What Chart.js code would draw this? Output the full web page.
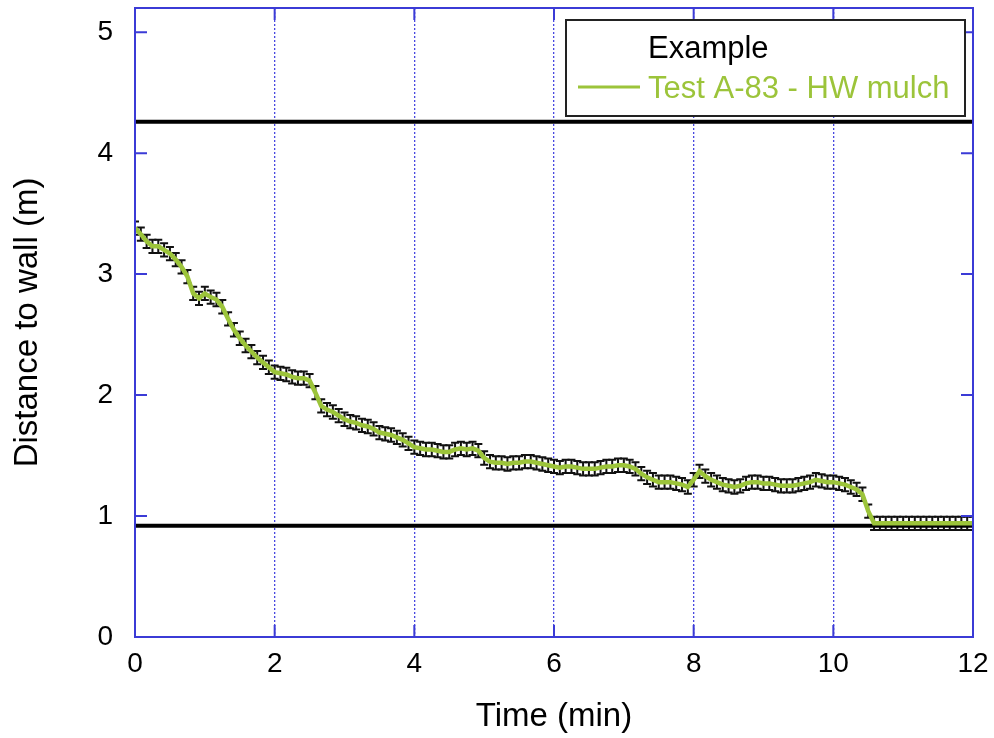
<!DOCTYPE html>
<html>
<head>
<meta charset="utf-8">
<title>Distance to wall</title>
<script src="https://cdn.jsdelivr.net/npm/chart.js@4.4.1/dist/chart.umd.min.js"></script>
<style>
    html, body { margin: 0; padding: 0; background: #fff; }
    #wrap { width: 994px; height: 738px; }
</style>
</head>
<body>
<div id="wrap"><canvas id="chart" width="994" height="738"></canvas></div>
<script>
// Sample times (s), one reading every 5 s
const timeSec = [
    0, 5, 10, 15, 20, 25, 30, 35, 40, 45, 50, 55,
    60, 65, 70, 75, 80, 85, 90, 95, 100, 105, 110, 115,
    120, 125, 130, 135, 140, 145, 150, 155, 160, 165, 170, 175,
    180, 185, 190, 195, 200, 205, 210, 215, 220, 225, 230, 235,
    240, 245, 250, 255, 260, 265, 270, 275, 280, 285, 290, 295,
    300, 305, 310, 315, 320, 325, 330, 335, 340, 345, 350, 355,
    360, 365, 370, 375, 380, 385, 390, 395, 400, 405, 410, 415,
    420, 425, 430, 435, 440, 445, 450, 455, 460, 465, 470, 475,
    480, 485, 490, 495, 500, 505, 510, 515, 520, 525, 530, 535,
    540, 545, 550, 555, 560, 565, 570, 575, 580, 585, 590, 595,
    600, 605, 610, 615, 620, 625, 630, 635, 640, 645, 650, 655,
    660, 665, 670, 675, 680, 685, 690, 695, 700, 705, 710, 715,
    720
];

// Distance to wall (m) at each sample time
const distance = [
    3.38, 3.33, 3.27, 3.23, 3.23, 3.20, 3.17, 3.12, 3.06, 2.98, 2.84, 2.80,
    2.84, 2.81, 2.79, 2.73, 2.63, 2.54, 2.47, 2.41, 2.36, 2.31, 2.27, 2.23,
    2.19, 2.18, 2.17, 2.15, 2.14, 2.14, 2.12, 2.02, 1.91, 1.88, 1.86, 1.83,
    1.80, 1.78, 1.77, 1.75, 1.74, 1.72, 1.69, 1.68, 1.67, 1.65, 1.63, 1.60,
    1.57, 1.56, 1.55, 1.55, 1.54, 1.53, 1.53, 1.55, 1.56, 1.55, 1.56, 1.54,
    1.48, 1.45, 1.44, 1.44, 1.43, 1.44, 1.44, 1.45, 1.45, 1.44, 1.43, 1.42,
    1.41, 1.40, 1.41, 1.41, 1.40, 1.39, 1.39, 1.39, 1.40, 1.41, 1.41, 1.42,
    1.42, 1.41, 1.39, 1.35, 1.32, 1.30, 1.28, 1.28, 1.28, 1.27, 1.26, 1.24,
    1.30, 1.37, 1.33, 1.30, 1.28, 1.26, 1.25, 1.24, 1.25, 1.27, 1.28, 1.28,
    1.27, 1.27, 1.26, 1.25, 1.25, 1.25, 1.26, 1.27, 1.28, 1.30, 1.29, 1.28,
    1.28, 1.27, 1.26, 1.24, 1.22, 1.18, 1.04, 0.94, 0.94, 0.94, 0.94, 0.94,
    0.94, 0.94, 0.94, 0.94, 0.94, 0.94, 0.94, 0.94, 0.94, 0.94, 0.94, 0.94,
    0.94
];

// +/- uncertainty on each reading (m)
const errorHalf = 0.055;

// Horizontal reference levels (m)
const refLevels = [4.26, 0.92];

// Axis ticks
const xTicks = [0, 2, 4, 6, 8, 10, 12];
const yTicks = [0, 1, 2, 3, 4, 5];

const seriesLabel = "Test A-83 - HW mulch";
const legendTitle = "Example";

const FRAME = "#3b3bd6";
const GRID = "#4848e0";
const GREEN = "#9cc43a";
const FONT = "'Liberation Sans', Arial, sans-serif";

const points = timeSec.map((s, i) => ({ x: s / 60, y: distance[i] }));

// Error bars with small caps, under the curve
const errorBars = {
    id: "errorBars",
    beforeDatasetsDraw(chart) {
        const { ctx, chartArea: a, scales: { x, y } } = chart;
        ctx.save();
        ctx.beginPath();
        ctx.rect(a.left, a.top, a.width, a.height);
        ctx.clip();
        ctx.strokeStyle = "#111";
        ctx.lineWidth = 2;
        points.forEach(p => {
            const px = x.getPixelForValue(p.x);
            const top = y.getPixelForValue(p.y + errorHalf);
            const bot = y.getPixelForValue(p.y - errorHalf);
            ctx.beginPath();
            ctx.moveTo(px, top); ctx.lineTo(px, bot);
            ctx.moveTo(px - 4, top); ctx.lineTo(px + 4, top);
            ctx.moveTo(px - 4, bot); ctx.lineTo(px + 4, bot);
            ctx.stroke();
        });
        ctx.restore();
    }
};

// Box frame with inward tick marks on all four sides
const frameTicks = {
    id: "frameTicks",
    afterDatasetsDraw(chart) {
        const { ctx, chartArea: a, scales: { x, y } } = chart;
        const len = 12;
        ctx.save();
        ctx.strokeStyle = FRAME;
        ctx.lineWidth = 2;
        ctx.beginPath();
        xTicks.forEach(v => {
            const px = x.getPixelForValue(v);
            ctx.moveTo(px, a.bottom); ctx.lineTo(px, a.bottom - len);
            ctx.moveTo(px, a.top); ctx.lineTo(px, a.top + len);
        });
        yTicks.forEach(v => {
            const py = y.getPixelForValue(v);
            ctx.moveTo(a.left, py); ctx.lineTo(a.left + len, py);
            ctx.moveTo(a.right, py); ctx.lineTo(a.right - len, py);
        });
        ctx.stroke();
        ctx.strokeRect(a.left, a.top, a.width, a.height);
        ctx.restore();
    }
};

// Boxed legend in the upper right corner
const boxLegend = {
    id: "boxLegend",
    afterDraw(chart) {
        const { ctx, chartArea: a } = chart;
        const right = a.right - 8, top = a.top + 12;
        const w = 399, h = 96;
        const left = right - w;
        ctx.save();
        ctx.fillStyle = "#fff";
        ctx.fillRect(left, top, w, h);
        ctx.strokeStyle = "#222";
        ctx.lineWidth = 2;
        ctx.strokeRect(left, top, w, h);

        ctx.font = "31px " + FONT;
        ctx.textAlign = "left";
        ctx.textBaseline = "alphabetic";
        ctx.fillStyle = "#000";
        ctx.fillText(legendTitle, left + 82, top + 38);

        ctx.strokeStyle = GREEN;
        ctx.lineWidth = 3;
        ctx.beginPath();
        ctx.moveTo(left + 12, top + 67);
        ctx.lineTo(left + 74, top + 67);
        ctx.stroke();
        ctx.fillStyle = GREEN;
        ctx.fillText(seriesLabel, left + 82, top + 78);
        ctx.restore();
    }
};

const ctx = document.getElementById("chart").getContext("2d");

new Chart(ctx, {
    type: "scatter",
    data: {
        datasets: [
            {
                label: seriesLabel,
                data: points,
                showLine: true,
                borderColor: GREEN,
                borderWidth: 4.5,
                pointRadius: 0,
                order: 0
            },
            ...refLevels.map(v => ({
                label: "ref " + v,
                data: [{ x: 0, y: v }, { x: 12, y: v }],
                showLine: true,
                borderColor: "#000",
                borderWidth: 4,
                pointRadius: 0,
                order: 1
            }))
        ]
    },
    options: {
        responsive: false,
        animation: false,
        layout: { padding: { left: 0, right: 21, top: 8, bottom: 0 } },
        plugins: {
            legend: { display: false },
            tooltip: { enabled: false }
        },
        scales: {
            x: {
                type: "linear",
                min: 0,
                max: 12,
                afterBuildTicks: s => { s.ticks = xTicks.map(v => ({ value: v })); },
                afterFit: s => { s.height = 101; s.paddingLeft = 0; s.paddingRight = 0; },
                ticks: {
                    color: "#000",
                    font: { family: FONT, size: 28 },
                    padding: 10,
                    maxRotation: 0
                },
                grid: { color: GRID, lineWidth: 1.3, drawTicks: false },
                border: { display: false, dash: [2, 2] },
                title: {
                    display: true,
                    text: "Time (min)",
                    color: "#000",
                    font: { family: FONT, size: 33 },
                    padding: { top: 0, bottom: 1 }
                }
            },
            y: {
                type: "linear",
                min: 0,
                max: 5.2,
                afterBuildTicks: s => { s.ticks = yTicks.map(v => ({ value: v })); },
                afterFit: s => { s.width = 135; s.paddingTop = 0; s.paddingBottom = 0; },
                ticks: {
                    color: "#000",
                    font: { family: FONT, size: 28 },
                    padding: 22
                },
                grid: { display: false, drawTicks: false },
                border: { display: false },
                title: {
                    display: true,
                    text: "Distance to wall (m)",
                    color: "#000",
                    font: { family: FONT, size: 33 },
                    padding: { top: 8, bottom: 0 }
                }
            }
        }
    },
    plugins: [errorBars, frameTicks, boxLegend]
});
</script>
</body>
</html>
